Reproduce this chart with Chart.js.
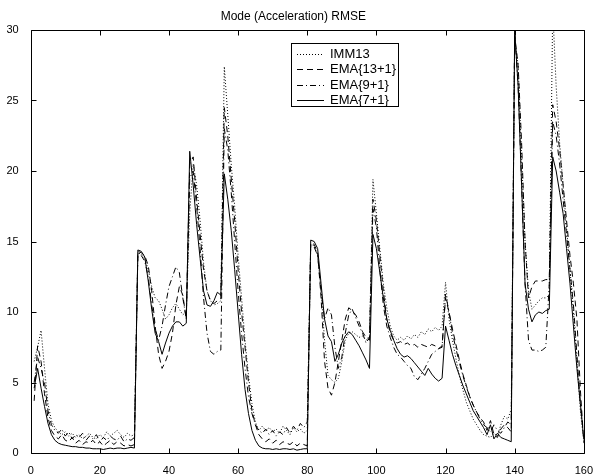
<!DOCTYPE html>
<html><head><meta charset="utf-8">
<script src="https://cdn.jsdelivr.net/npm/chart.js@4/dist/chart.umd.min.js"></script>
<style>html,body{margin:0;padding:0;background:#fff}#wrap{width:596px;height:474px}</style>
</head><body><div id="wrap"><canvas id="c" width="596" height="474"></canvas></div>
<script>
const titleText = 'Mode (Acceleration) RMSE';
const steps = [1,2,3,4,5,6,7,8,9,10,11,12,13,14,15,16,17,18,19,20,21,22,23,24,25,26,27,28,29,30,
31,32,33,34,35,36,37,38,39,40,41,42,43,44,45,46,47,48,49,50,51,52,53,54,55,56,57,58,59,60,
61,62,63,64,65,66,67,68,69,70,71,72,73,74,75,76,77,78,79,80,81,82,83,84,85,86,87,88,89,90,
91,92,93,94,95,96,97,98,99,100,101,102,103,104,105,106,107,108,109,110,111,112,113,114,115,116,117,118,119,120,
121,122,123,124,125,126,127,128,129,130,131,132,133,134,135,136,137,138,139,140,141,142,143,144,145,146,147,148,149,150,
151,152,153,154,155,156,157,158,159,160];
const xTicks = [0,20,40,60,80,100,120,140,160];
const yTicks = [0,5,10,15,20,25,30];

const imm13 = [6.5,7.5,8.7,6.0,3.5,2.3,1.8,1.5,1.3,1.5,1.2,1.4,1.1,1.3,1.0,1.2,1.4,1.1,1.0,1.3,1.1,1.5,1.2,1.4,1.6,1.3,1.1,1.4,1.2,1.3,
14.2,14.1,13.8,13.0,11.8,11.0,10.8,10.2,9.5,9.8,10.3,10.6,10.2,9.8,10.0,17.0,20.5,19.0,16.5,13.5,11.5,10.8,10.5,10.6,10.8,27.4,24.0,20.5,17.5,14.0,
11.0,8.0,5.5,3.5,2.2,1.6,1.9,1.6,1.8,1.5,1.7,1.4,1.9,1.6,1.3,1.8,1.5,1.7,1.4,1.6,
14.8,14.7,14.0,11.5,8.0,5.5,5.2,5.0,5.3,6.5,8.0,8.5,8.6,8.4,8.2,8.3,8.0,8.3,19.4,17.0,14.5,12.0,10.3,9.0,8.3,8.0,8.2,8.0,8.3,8.1,
8.4,8.2,8.6,8.4,8.8,8.6,8.9,8.7,9.0,12.1,9.5,8.0,6.7,5.5,4.5,3.6,3.0,2.4,2.0,1.6,1.3,1.2,1.1,1.4,1.2,2.0,2.6,2.4,3.1,
29.3,27.5,21.0,15.0,11.5,10.2,10.5,10.8,11.0,11.0,11.2,31.5,26.0,22.0,19.0,16.0,13.0,10.0,6.5,3.0,0.8];

const ema13 = [3.7,7.6,6.5,4.2,2.5,1.6,1.2,1.0,1.3,0.9,0.8,1.1,0.7,0.9,0.6,0.8,0.7,0.9,0.6,0.8,0.5,0.7,0.9,0.6,0.8,0.7,0.5,0.6,0.5,0.6,
14.3,14.2,14.0,13.3,11.5,9.0,7.0,6.0,6.5,7.2,8.5,10.5,11.8,11.2,9.5,20.5,21.0,18.0,15.5,13.0,11.5,10.8,10.6,10.8,11.0,24.5,22.5,19.5,16.5,13.0,
10.0,7.5,5.0,3.0,2.0,1.3,1.0,0.8,1.0,0.7,0.9,0.6,0.8,0.7,0.6,0.8,0.5,0.7,0.6,0.5,
14.9,14.8,14.2,11.0,6.5,4.6,4.1,5.0,6.5,8.0,9.5,10.3,10.1,9.8,9.3,8.6,8.2,8.0,18.0,16.5,14.0,11.5,9.5,8.5,8.0,7.8,7.9,7.7,7.8,7.6,
7.7,7.5,7.7,7.6,7.5,7.7,7.6,7.4,7.6,11.0,10.0,8.8,7.7,6.6,5.6,4.8,4.0,3.4,2.9,2.5,2.2,1.6,2.3,1.3,1.1,1.7,2.0,1.8,1.5,
29.6,27.5,22.0,15.0,11.0,11.8,12.2,12.2,12.2,12.3,12.3,24.7,23.5,21.5,19.0,16.5,14.0,12.0,9.5,4.5,0.7];

const ema9 = [5.0,6.8,6.0,5.0,3.0,2.0,1.6,1.4,1.7,1.2,1.5,1.0,1.3,1.1,1.4,0.9,1.2,1.0,1.3,0.8,1.1,0.9,1.2,1.0,0.9,1.2,0.8,1.0,0.9,1.1,
14.2,14.0,13.6,12.5,10.5,8.8,8.0,9.0,10.5,11.8,12.5,13.2,12.8,11.0,9.5,19.5,20.0,17.5,14.5,11.0,8.5,7.2,7.0,7.2,7.3,23.0,21.5,18.5,15.0,11.5,
8.5,6.0,4.0,2.8,2.0,1.6,1.4,1.7,1.3,1.6,1.2,1.5,1.3,1.8,1.4,1.9,1.6,2.1,1.8,2.2,
14.7,14.6,14.0,11.5,9.5,10.3,9.8,7.5,6.0,6.8,8.5,9.8,10.2,9.6,9.0,8.5,7.8,8.2,17.3,16.0,13.0,10.5,9.0,8.2,7.5,7.0,6.8,6.5,6.2,6.0,
5.4,5.2,5.6,6.0,6.5,7.0,7.2,7.4,7.5,11.3,10.0,8.5,7.4,6.4,5.5,4.7,4.0,3.4,2.9,2.4,2.0,1.8,1.5,2.0,1.6,1.4,1.8,2.2,2.0,
29.8,26.0,19.0,12.0,8.0,7.3,7.3,7.2,7.3,7.5,12.0,23.5,22.5,20.5,18.0,15.5,13.0,10.5,7.0,3.5,1.0];

const ema7 = [4.6,6.0,4.6,3.3,2.1,1.3,0.9,0.7,0.6,0.55,0.5,0.45,0.45,0.4,0.4,0.35,0.35,0.3,0.3,0.3,0.25,0.3,0.35,0.3,0.35,0.35,0.3,0.35,0.4,0.35,
14.4,14.3,13.9,12.2,10.2,8.5,7.9,7.0,7.8,8.5,9.0,9.3,9.3,9.0,9.2,21.4,19.0,16.2,13.8,11.5,10.5,10.4,10.8,11.4,11.2,19.8,18.0,15.8,13.0,10.0,
7.0,4.5,2.8,1.6,0.9,0.5,0.35,0.3,0.3,0.25,0.3,0.25,0.3,0.3,0.25,0.3,0.2,0.25,0.3,0.3,
15.1,15.0,14.5,12.0,9.5,8.3,7.9,6.5,7.0,7.8,8.3,8.6,8.4,8.0,7.6,7.1,6.6,6.0,15.5,14.5,12.8,11.0,9.5,8.7,8.0,7.4,7.0,6.8,6.9,6.7,
6.4,6.1,5.8,5.5,6.0,5.6,5.3,5.1,5.3,9.0,8.0,7.0,6.2,5.5,4.8,4.2,3.6,3.0,2.6,2.2,1.8,1.3,2.0,1.0,1.4,1.1,1.0,0.9,0.8,
30.0,26.0,19.0,12.0,10.2,9.3,9.8,10.0,9.9,10.1,10.2,21.0,20.0,18.5,17.0,14.5,12.0,9.0,6.0,3.5,1.0];

const seriesNames = ['IMM13','EMA{13+1}','EMA{9+1}','EMA{7+1}'];
const seriesValues = [imm13, ema13, ema9, ema7];
const dashes = [[1,2],[6,4],[6,3,1,3],[]];

const FONT = "'Liberation Sans', Arial, Helvetica, sans-serif";

const datasets = seriesNames.map((name, i) => ({
  label: name,
  data: steps.map((s, k) => ({x: s, y: seriesValues[i][k]})),
  borderColor: '#000',
  borderWidth: 1,
  borderDash: dashes[i],
  pointRadius: 0,
  tension: 0,
  fill: false
}));

const crisp = v => Math.round(v) + 0.5;

const framePlugin = {
  id: 'frame',
  afterDatasetsDraw(chart) {
    const {ctx, chartArea: a, scales: {x, y}} = chart;
    ctx.save();
    ctx.strokeStyle = '#000';
    ctx.lineWidth = 1;
    ctx.setLineDash([]);
    const L = crisp(a.left), R = crisp(a.right), T = crisp(a.top), B = crisp(a.bottom);
    ctx.beginPath();
    ctx.rect(L, T, R - L, B - T);
    const tl = 5;
    xTicks.forEach(v => {
      const px = crisp(x.getPixelForValue(v));
      ctx.moveTo(px, B); ctx.lineTo(px, B - tl);
      ctx.moveTo(px, T); ctx.lineTo(px, T + tl);
    });
    yTicks.forEach(v => {
      const py = crisp(y.getPixelForValue(v));
      ctx.moveTo(L, py); ctx.lineTo(L + tl, py);
      ctx.moveTo(R, py); ctx.lineTo(R - tl, py);
    });
    ctx.stroke();
    ctx.restore();
  }
};

const legendPlugin = {
  id: 'boxLegend',
  afterDraw(chart) {
    const ctx = chart.ctx;
    const bx = 291, by = 43, bw = 107, bh = 63;
    ctx.save();
    ctx.fillStyle = '#fff';
    ctx.fillRect(bx, by, bw, bh);
    ctx.strokeStyle = '#000';
    ctx.lineWidth = 1;
    ctx.setLineDash([]);
    ctx.strokeRect(bx + 0.5, by + 0.5, bw, bh);
    ctx.font = '13px ' + FONT;
    ctx.fillStyle = '#000';
    ctx.textBaseline = 'middle';
    ctx.textAlign = 'left';
    chart.data.datasets.forEach((ds, i) => {
      const cy = Math.round(by + 10.5 + i * 15.6) + 0.5;
      ctx.setLineDash(ds.borderDash || []);
      ctx.beginPath();
      ctx.moveTo(297, cy);
      ctx.lineTo(324, cy);
      ctx.stroke();
      ctx.setLineDash([]);
      ctx.fillText(ds.label, 330, cy);
    });
    ctx.restore();
  }
};

new Chart(document.getElementById('c'), {
  type: 'line',
  data: { datasets },
  options: {
    responsive: false,
    devicePixelRatio: 1,
    animation: false,
    layout: { padding: { left: 0, right: 9.3, top: 0, bottom: 0 } },
    plugins: {
      legend: { display: false },
      tooltip: { enabled: false },
      title: {
        display: true,
        text: titleText,
        color: '#000',
        font: { family: FONT, size: 12, weight: 'normal' },
        padding: { top: 9, bottom: 6.6 }
      }
    },
    scales: {
      x: {
        type: 'linear',
        min: 0, max: 160,
        grid: { display: false },
        border: { display: false },
        afterBuildTicks: s => { s.ticks = xTicks.map(v => ({ value: v })); },
        afterFit: s => { s.height = 21; },
        ticks: { color: '#000', font: { family: FONT, size: 11 }, padding: 3, maxRotation: 0, autoSkip: false }
      },
      y: {
        type: 'linear',
        min: 0, max: 30,
        grid: { display: false },
        border: { display: false },
        afterBuildTicks: s => { s.ticks = yTicks.map(v => ({ value: v })); },
        afterFit: s => { s.width = 30.7; },
        ticks: { color: '#000', font: { family: FONT, size: 11 }, padding: 4, autoSkip: false }
      }
    }
  },
  plugins: [framePlugin, legendPlugin]
});
</script></body></html>
